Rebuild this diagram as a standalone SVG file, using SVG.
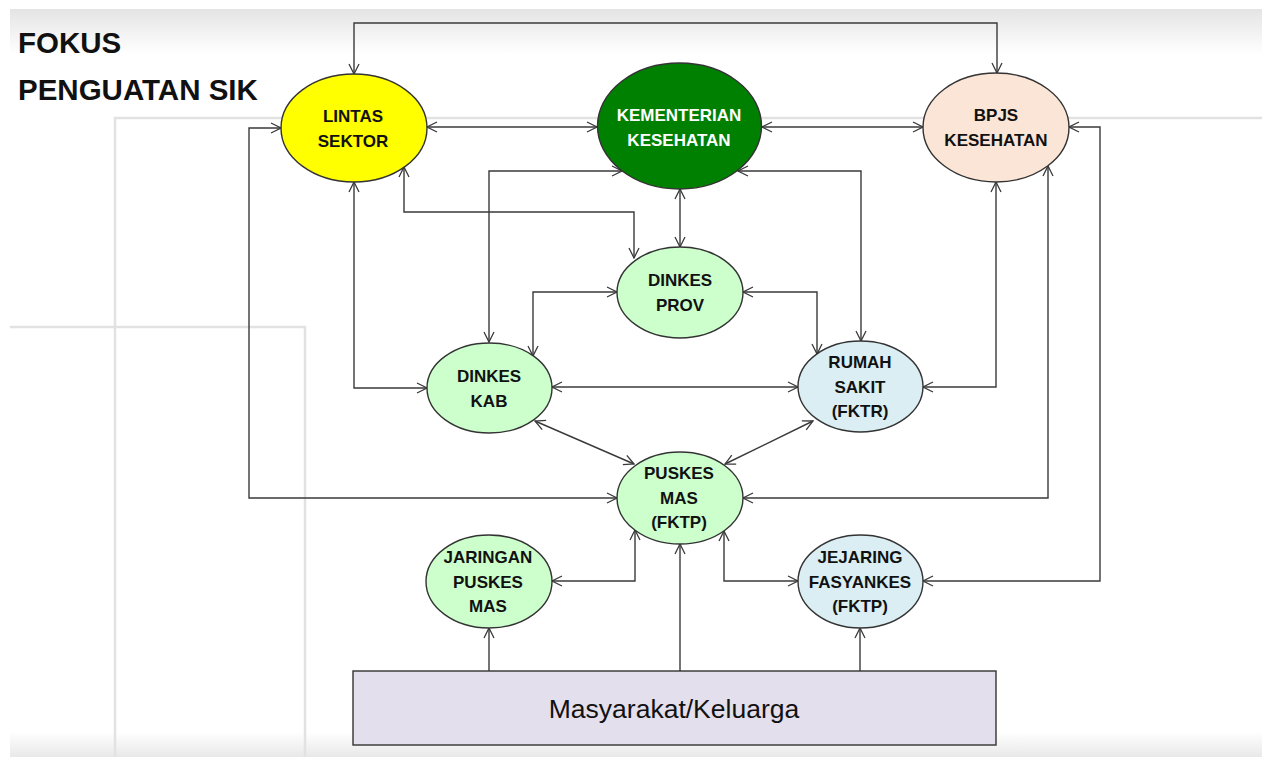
<svg xmlns="http://www.w3.org/2000/svg" width="1262" height="757" viewBox="0 0 1262 757">
<defs>
<linearGradient id="topg" x1="0" y1="0" x2="0" y2="1">
<stop offset="0" stop-color="#e4e4e4"/>
<stop offset="1" stop-color="#ffffff"/>
</linearGradient>
<linearGradient id="botg" x1="0" y1="0" x2="0" y2="1">
<stop offset="0" stop-color="#ffffff"/>
<stop offset="1" stop-color="#e8e8e8"/>
</linearGradient>
<marker id="arr" viewBox="0 0 12 12" refX="11" refY="6" markerWidth="12" markerHeight="12" markerUnits="userSpaceOnUse" orient="auto-start-reverse">
<path d="M1,1 L11,6 L1,11" fill="none" stroke="#3a3a3a" stroke-width="1.3"/>
</marker>
<style>
.bg{fill:none;stroke:#e2e2e2;stroke-width:2.5}
.c{fill:none;stroke:#3a3a3a;stroke-width:1.4;marker-end:url(#arr)}
.b{marker-start:url(#arr)}
.n{stroke:#333;stroke-width:1.4}
.t{font-family:"Liberation Sans",Arial,sans-serif;font-weight:bold;font-size:17px;fill:#111;text-anchor:middle}
</style>
</defs>
<rect x="0" y="0" width="1262" height="757" fill="#ffffff"/>
<rect x="10" y="9" width="1252" height="45" fill="url(#topg)"/>
<rect x="10" y="732" width="1252" height="25" fill="url(#botg)"/>
<g id="background-lines">
<path class="bg" d="M115,757 V118 H1262"/>
<path class="bg" d="M10,327 H305 V757"/>
</g>
<g id="title">
<text x="18" y="53" font-family="Liberation Sans, Arial, sans-serif" font-weight="bold" font-size="29.5" fill="#111">FOKUS</text>
<text x="18" y="100" font-family="Liberation Sans, Arial, sans-serif" font-weight="bold" font-size="29.5" fill="#111">PENGUATAN SIK</text>
</g>
<g id="connectors">
<path class="c b" d="M354,74 V23 H997 V73"/>
<path class="c b" d="M427,127 H597"/>
<path class="c b" d="M762,127 H923"/>
<path class="c b" d="M281,128 H249 V498 H617"/>
<path class="c b" d="M354,182 V388 H427"/>
<path class="c b" d="M404,167 V212 H634 V258"/>
<path class="c b" d="M622,171 H489 V342"/>
<path class="c b" d="M680,189 V247"/>
<path class="c b" d="M738,171 H861 V341"/>
<path class="c b" d="M996,182 V387 H923"/>
<path class="c b" d="M1048,166 V498 H743"/>
<path class="c b" d="M1069,127 H1100 V581 H923"/>
<path class="c b" d="M617,292 H533 V356"/>
<path class="c b" d="M743,292 H817 V354"/>
<path class="c b" d="M552,387 H798"/>
<path class="c b" d="M535,421 L634,464"/>
<path class="c b" d="M813,421 L725,464"/>
<path class="c b" d="M552,581 H635 V530"/>
<path class="c b" d="M724,531 V581 H798"/>
<path class="c" d="M489,671 V628"/>
<path class="c" d="M680,671 V544"/>
<path class="c" d="M860,671 V628"/>
</g>
<g id="lintas-sektor">
<ellipse class="n" cx="354" cy="128" rx="73" ry="54" fill="#ffff00"/>
<text class="t" x="353" y="122">LINTAS</text>
<text class="t" x="353" y="147">SEKTOR</text>
</g>
<g id="kementerian-kesehatan">
<ellipse class="n" cx="679.5" cy="126" rx="82" ry="63" fill="#008000"/>
<text class="t" x="679" y="121" style="fill:#ffffff">KEMENTERIAN</text>
<text class="t" x="679" y="146" style="fill:#ffffff">KESEHATAN</text>
</g>
<g id="bpjs-kesehatan">
<ellipse class="n" cx="996" cy="127.5" rx="73" ry="54.5" fill="#fbe5d6"/>
<text class="t" x="996" y="121">BPJS</text>
<text class="t" x="996" y="146">KESEHATAN</text>
</g>
<g id="dinkes-prov">
<ellipse class="n" cx="680" cy="292.5" rx="63" ry="45.5" fill="#ccffcc"/>
<text class="t" x="680" y="286">DINKES</text>
<text class="t" x="680" y="311">PROV</text>
</g>
<g id="dinkes-kab">
<ellipse class="n" cx="489.5" cy="388" rx="62.5" ry="45" fill="#ccffcc"/>
<text class="t" x="489" y="382">DINKES</text>
<text class="t" x="489" y="407">KAB</text>
</g>
<g id="rumah-sakit">
<ellipse class="n" cx="860.5" cy="386.5" rx="62.5" ry="45.5" fill="#daeef3"/>
<text class="t" x="860" y="368">RUMAH</text>
<text class="t" x="860" y="393">SAKIT</text>
<text class="t" x="860" y="417">(FKTR)</text>
</g>
<g id="puskesmas">
<ellipse class="n" cx="680" cy="498" rx="63" ry="46" fill="#ccffcc"/>
<text class="t" x="679" y="479">PUSKES</text>
<text class="t" x="679" y="504">MAS</text>
<text class="t" x="679" y="528">(FKTP)</text>
</g>
<g id="jaringan-puskesmas">
<ellipse class="n" cx="489" cy="581.5" rx="63" ry="46.5" fill="#ccffcc"/>
<text class="t" x="488" y="563">JARINGAN</text>
<text class="t" x="488" y="588">PUSKES</text>
<text class="t" x="488" y="612">MAS</text>
</g>
<g id="jejaring-fasyankes">
<ellipse class="n" cx="860.5" cy="581.5" rx="62.5" ry="46.5" fill="#daeef3"/>
<text class="t" x="860" y="563">JEJARING</text>
<text class="t" x="860" y="588">FASYANKES</text>
<text class="t" x="860" y="612">(FKTP)</text>
</g>
<g id="masyarakat-keluarga">
<rect x="353" y="671" width="643" height="74" fill="#e4dfec" stroke="#333" stroke-width="1.4"/>
<text x="674" y="718" font-family="Liberation Sans, Arial, sans-serif" font-size="26.5" fill="#111" text-anchor="middle">Masyarakat/Keluarga</text>
</g>
</svg>
